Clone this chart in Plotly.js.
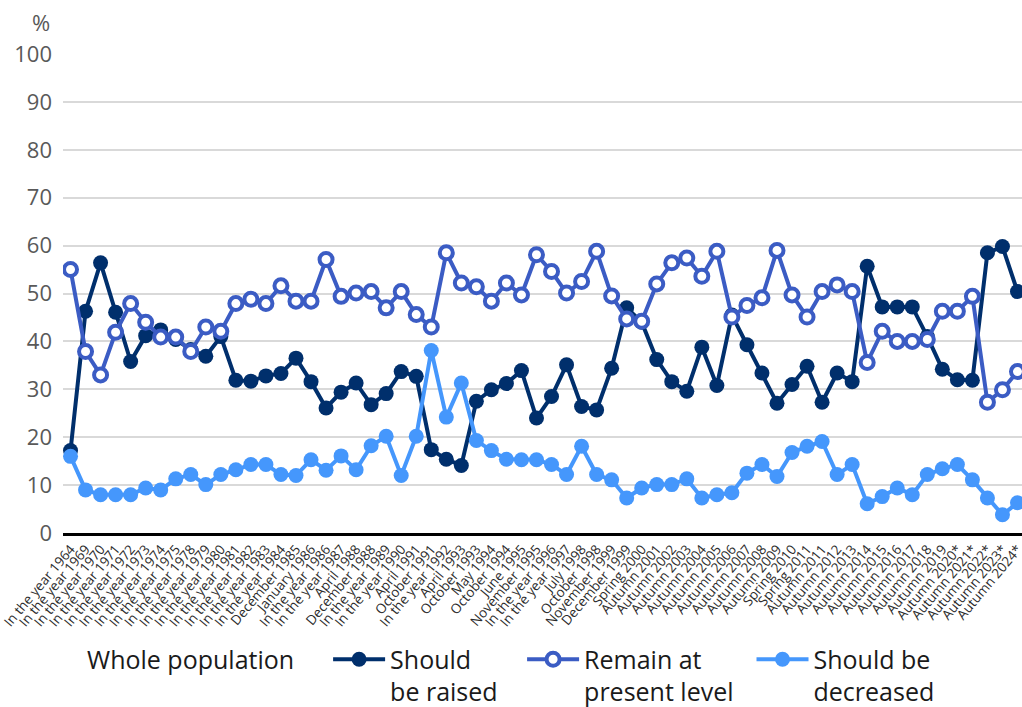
<!DOCTYPE html>
<html>
<head>
<meta charset="utf-8">
<script src="https://cdn.plot.ly/plotly-3.0.1.min.js"></script>
<style>
  html, body { margin: 0; padding: 0; background: #ffffff; overflow: hidden; }
  #chart { width: 1022px; height: 707px; }
</style>
</head>
<body>
<div id="chart"></div>
<script>
const categories = [
  "In the year 1964", "In the year 1969", "In the year 1970", "In the year 1971",
  "In the year 1972", "In the year 1973", "In the year 1974", "In the year 1975",
  "In the year 1978", "In the year 1979", "In the year 1980", "In the year 1981",
  "In the year 1982", "In the year 1983", "In the year 1984", "December 1985",
  "January 1986", "In the year 1986", "In the year 1987", "April 1988",
  "December 1988", "In the year 1989", "In the year 1990", "April 1991",
  "October 1991", "In the year 1992", "April 1993", "October 1993",
  "May 1994", "October 1994", "June 1995", "November 1995",
  "In the year 1996", "In the year 1997", "July 1998", "October 1998",
  "November 1999", "December 1999", "Spring 2000", "Autumn 2001",
  "Autumn 2002", "Autumn 2003", "Autumn 2004", "Autumn 2005",
  "Autumn 2006", "Autumn 2007", "Autumn 2008", "Autumn 2009",
  "Spring 2010", "Spring 2011", "Autumn 2011", "Autumn 2012",
  "Autumn 2013", "Autumn 2014", "Autumn 2015", "Autumn 2016",
  "Autumn 2017", "Autumn 2018", "Autumn 2019", "Autumn 2020*",
  "Autumn 2021*", "Autumn 2022*", "Autumn 2023*", "Autumn 2024*"
];

const shouldBeRaised = [
  17.2, 46.3, 56.4, 46.1, 35.8, 41.2, 42.4, 40.4, 38.3, 36.9,
  41.0, 31.9, 31.7, 32.8, 33.3, 36.5, 31.6, 26.1, 29.4, 31.3,
  26.8, 29.1, 33.7, 32.7, 17.4, 15.4, 14.1, 27.5, 29.9, 31.2,
  33.9, 24.0, 28.5, 35.1, 26.4, 25.7, 34.4, 47.0, 44.0, 36.2,
  31.6, 29.6, 38.8, 30.8, 45.5, 39.3, 33.4, 27.1, 31.0, 34.8,
  27.3, 33.4, 31.6, 55.7, 47.2, 47.2, 47.2, 41.0, 34.2, 32.0,
  31.9, 58.5, 59.8, 50.4
];

const remainAtPresentLevel = [
  55.0, 37.9, 33.0, 41.9, 47.9, 44.0, 40.9, 40.9, 37.9, 43.0,
  42.1, 47.9, 48.8, 47.9, 51.6, 48.4, 48.4, 57.1, 49.4, 50.1,
  50.4, 47.0, 50.4, 45.6, 43.0, 58.5, 52.2, 51.4, 48.4, 52.2,
  49.7, 58.1, 54.6, 50.1, 52.5, 58.8, 49.5, 44.7, 44.2, 52.0,
  56.4, 57.4, 53.6, 58.8, 45.1, 47.5, 49.1, 59.0, 49.7, 45.1,
  50.4, 51.8, 50.4, 35.6, 42.1, 40.0, 40.0, 40.4, 46.3, 46.3,
  49.4, 27.3, 29.9, 33.7
];

const shouldBeDecreased = [
  16.0, 9.0, 8.0, 8.0, 8.0, 9.4, 9.0, 11.3, 12.2, 10.1,
  12.2, 13.2, 14.3, 14.3, 12.2, 12.0, 15.3, 13.1, 16.1, 13.2,
  18.2, 20.2, 12.0, 20.2, 38.1, 24.2, 31.3, 19.3, 17.2, 15.4,
  15.3, 15.3, 14.3, 12.2, 18.1, 12.2, 11.1, 7.3, 9.4, 10.1,
  10.1, 11.3, 7.3, 8.0, 8.4, 12.5, 14.3, 11.8, 16.8, 18.1,
  19.1, 12.2, 14.3, 6.1, 7.6, 9.4, 8.0, 12.2, 13.4, 14.3,
  11.1, 7.3, 3.8, 6.3
];

const seriesNames = [
  "Should<br>be raised&nbsp;&nbsp;&nbsp;",
  "Remain at<br>present level&nbsp;&nbsp;",
  "Should be<br>decreased"
];
const legendTitle = "Whole population&nbsp;&nbsp;&nbsp;&nbsp;";
const yTickValues = [0, 10, 20, 30, 40, 50, 60, 70, 80, 90, 100];

const FONT = "'Open Sans', 'Noto Sans', sans-serif";
const C_DARK = "#002f6c";
const C_MID = "#3b5cc4";
const C_LIGHT = "#4597fc";

const traces = [
  {
    x: categories, y: shouldBeRaised, name: seriesNames[0],
    type: "scatter", mode: "lines+markers",
    line: { color: C_DARK, width: 4 },
    marker: { color: C_DARK, size: 15, line: { width: 0 } }
  },
  {
    x: categories, y: remainAtPresentLevel, name: seriesNames[1],
    type: "scatter", mode: "lines+markers",
    line: { color: C_MID, width: 4 },
    marker: { color: "#ffffff", size: 13, line: { color: C_MID, width: 4 } }
  },
  {
    x: categories, y: shouldBeDecreased, name: seriesNames[2],
    type: "scatter", mode: "lines+markers",
    line: { color: C_LIGHT, width: 4 },
    marker: { color: C_LIGHT, size: 15, line: { width: 0 } }
  }
];

const layout = {
  width: 1022, height: 707,
  margin: { l: 63, r: 0, t: 54, b: 174, autoexpand: false },
  paper_bgcolor: "#ffffff", plot_bgcolor: "#ffffff",
  font: { family: FONT, color: "#222222" },
  showlegend: true,
  legend: {
    orientation: "h",
    x: 0.023, xanchor: "left",
    y: -0.216, yanchor: "top",
    font: { family: FONT, size: 25, color: "#1a1a1a" },
    title: { text: legendTitle, side: "left", font: { family: FONT, size: 25, color: "#1a1a1a" } },
    valign: "top",
    itemwidth: 52,
    traceorder: "normal"
  },
  xaxis: {
    type: "category",
    range: [-0.5, 63.3],
    tickmode: "array",
    tickvals: categories,
    ticktext: categories,
    tickangle: -50,
    tickfont: { family: FONT, size: 13.5, color: "#2b2b2b" },
    ticks: "", showgrid: false,
    showline: true, linecolor: "#000000", linewidth: 3,
    zeroline: false, fixedrange: true
  },
  yaxis: {
    range: [0, 100],
    tickvals: yTickValues,
    tickfont: { family: FONT, size: 22, color: "#595959" },
    ticks: "", showline: false,
    showgrid: true, gridcolor: "#d9d9d9", gridwidth: 2,
    zeroline: false,
    ticklabelstandoff: 10,
    fixedrange: true
  },
  annotations: [{
    text: "%", xref: "paper", yref: "paper",
    x: 0, y: 1, xanchor: "right", yanchor: "middle",
    xshift: -11, yshift: 32, showarrow: false,
    font: { family: FONT, size: 22, color: "#595959" }
  }]
};

Plotly.newPlot("chart", traces, layout, { displayModeBar: false, staticPlot: true });
</script>
</body>
</html>
